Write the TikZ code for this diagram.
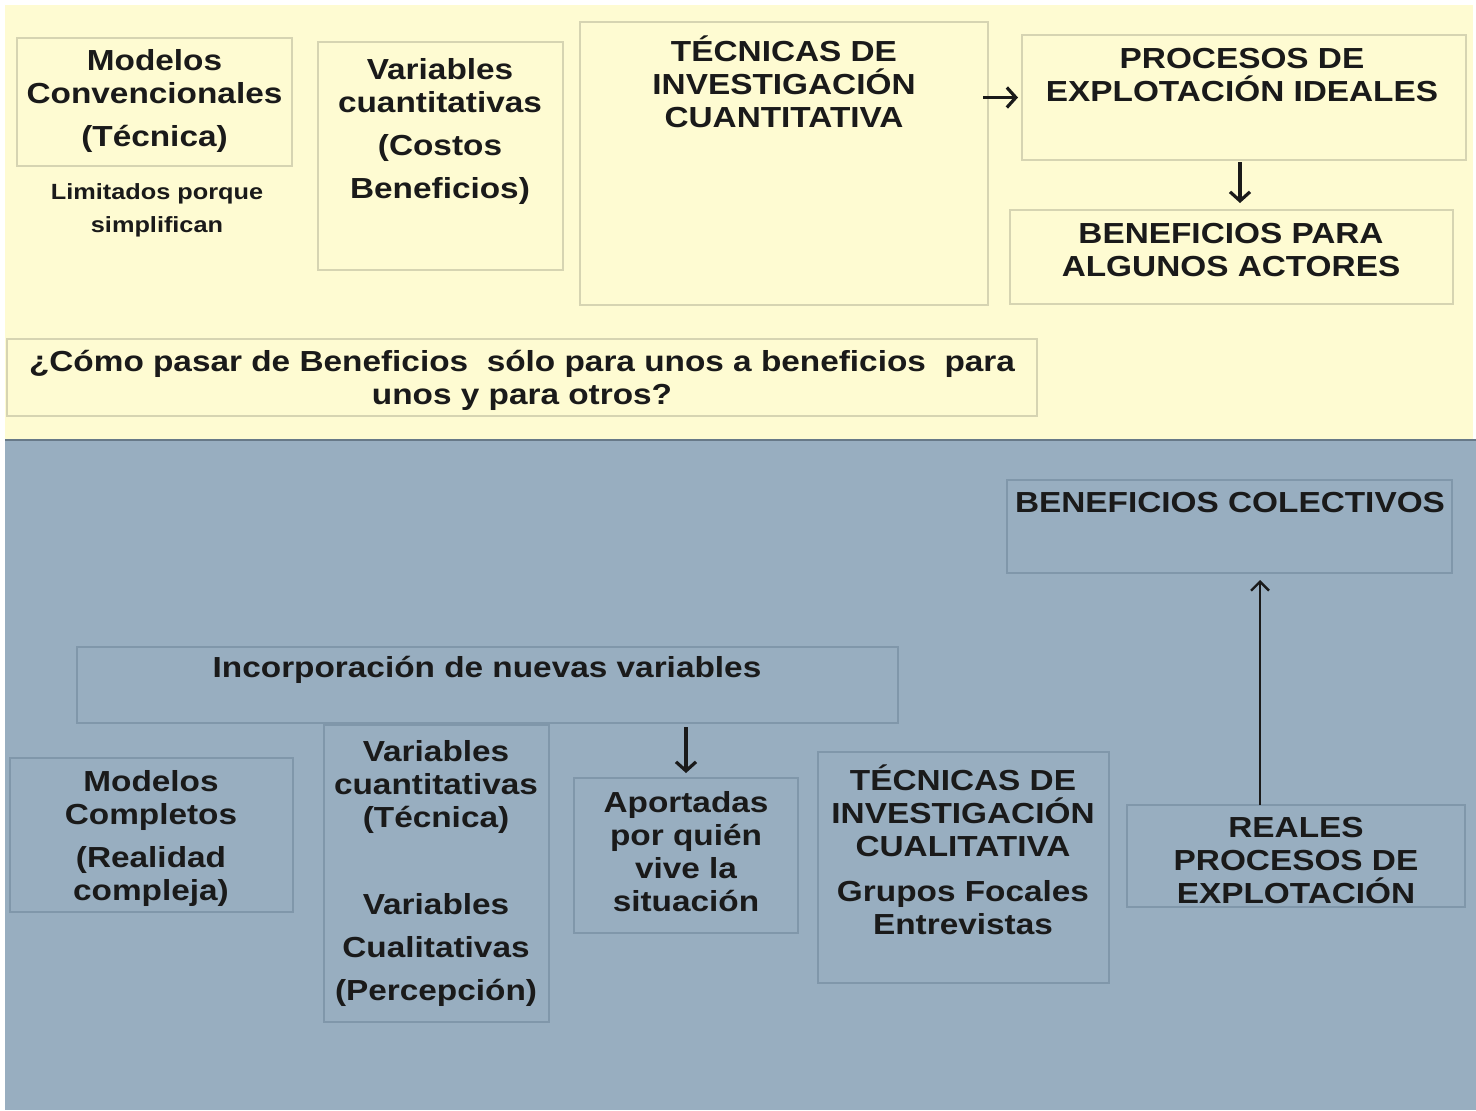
\documentclass[tikz,border=0pt]{standalone}
\usepackage{fontspec}
\setmainfont{Liberation Sans}[FakeStretch=1.15]
\usetikzlibrary{arrows.meta,positioning,calc}
\definecolor{crema}{HTML}{FEFBD2}
\definecolor{azulgris}{HTML}{98AEC0}
\definecolor{lineacrema}{HTML}{D6D4B2}
\definecolor{lineaazul}{HTML}{8097AA}
\definecolor{tinta}{HTML}{1A1A1A}

\begin{document}
\begin{tikzpicture}[x=0.5pt,y=-0.5pt,every node/.style={inner sep=0pt,outer sep=0pt},
  caja/.style={draw=lineacrema,line width=0.8pt},
  cajaazul/.style={draw=lineaazul,line width=0.8pt},
  texto/.style={align=center,text=tinta,font=\bfseries\fontsize{14.5pt}{16.5pt}\selectfont},
  chico/.style={align=center,text=tinta,font=\bfseries\fontsize{11pt}{16.5pt}\selectfont},
  flecha/.style={-{Straight Barb[length=4.5pt,width=10pt,line width=1.6pt]},line width=1.7pt,draw=tinta},
  flechafina/.style={-{Straight Barb[length=4.5pt,width=9pt,line width=1.2pt]},line width=1.2pt,draw=tinta}]
\useasboundingbox (0,0) rectangle (1476,1110);
\fill[white] (0,0) rectangle (1476,1110);
\fill[crema] (5,5) rectangle (1473,440);
\fill[azulgris] (5,440) rectangle (1476,1110);
\draw[lineaazul!80!black,line width=1pt] (5,440) -- (1476,440);

% parte superior
\node[caja,minimum width=137.5pt,minimum height=64pt] (b1) at (154.5,102) {};
\node[texto] (t1) at (154.5,101) {Modelos\\Convencionales\\[5pt](Técnica)};
\node[chico] (t1b) at (157,210) {Limitados porque\\simplifican};
\node[caja,minimum width=122.5pt,minimum height=114pt] (b2) at (440.5,156) {};
\node[texto] (t2) at (440,131) {Variables\\cuantitativas\\[5pt](Costos\\[5pt]Beneficios)};
\node[caja,minimum width=204pt,minimum height=141.5pt] (b3) at (784,163.5) {};
\node[texto] (t3) at (784,82) {TÉCNICAS DE\\INVESTIGACIÓN\\CUANTITATIVA};
\node[caja,minimum width=222pt,minimum height=62.5pt] (b4) at (1244,97.5) {};
\node[texto] (t4) at (1242,75) {PROCESOS DE\\EXPLOTACIÓN IDEALES};
\node[caja,minimum width=221.5pt,minimum height=47pt] (b5) at (1231.5,257) {};
\node[texto] (t5) at (1231,250.5) {BENEFICIOS PARA\\ALGUNOS ACTORES};
\node[caja,minimum width=515pt,minimum height=38.5pt] (b6) at (522,377.5) {};
\node[texto] (t6) at (522,380.5) {¿Cómo pasar de Beneficios~ sólo para unos a beneficios~ para\\unos y para otros?};

\draw[flecha] ([xshift=-2.5pt]b3.east |- b4.west) -- ([xshift=-2pt]b4.west);
\draw[flecha] ([xshift=-2pt,yshift=-1pt]b4.south) -- ([xshift=-2pt,yshift=3.5pt]b4.south |- b5.north);

% parte inferior
\node[cajaazul,minimum width=222.5pt,minimum height=46.5pt] (b7) at (1229.5,526.5) {};
\node[texto] (t7) at (1230,503) {BENEFICIOS COLECTIVOS};
\node[cajaazul,minimum width=410.5pt,minimum height=38pt] (b8) at (487.5,685) {};
\node[texto] (t8) at (487,670) {Incorporación de nuevas variables};
\node[cajaazul,minimum width=141.5pt,minimum height=77pt] (b9) at (151.5,835) {};
\node[texto] (t9) at (151,838.5) {Modelos\\Completos\\[5pt](Realidad\\compleja)};
\node[cajaazul,minimum width=112.5pt,minimum height=148.5pt] (b10) at (436.5,873.5) {};
\node[texto] (t10) at (436,873) {Variables\\cuantitativas\\(Técnica)\\[27pt]Variables\\[5pt]Cualitativas\\[5pt](Percepción)};
\node[cajaazul,minimum width=112pt,minimum height=77.5pt] (b11) at (686,855.5) {};
\node[texto] (t11) at (686,852) {Aportadas\\por quién\\vive la\\situación};
\node[cajaazul,minimum width=145.5pt,minimum height=115.5pt] (b12) at (963.5,867.5) {};
\node[texto] (t12) at (963,850) {TÉCNICAS DE\\INVESTIGACIÓN\\CUALITATIVA\\[6pt]Grupos Focales\\Entrevistas};
\node[cajaazul,minimum width=169pt,minimum height=51pt] (b13) at (1296,856) {};
\node[texto] (t13) at (1296,860) {REALES\\PROCESOS DE\\EXPLOTACIÓN};

\draw[flecha] ([yshift=-2pt]b11.north |- b8.south) -- ([yshift=2.5pt]b11.north);
\draw[flechafina] ([xshift=-18pt]b13.north) -- ([xshift=-18pt,yshift=-3.5pt]b13.north |- b7.south);
\end{tikzpicture}
\end{document}
